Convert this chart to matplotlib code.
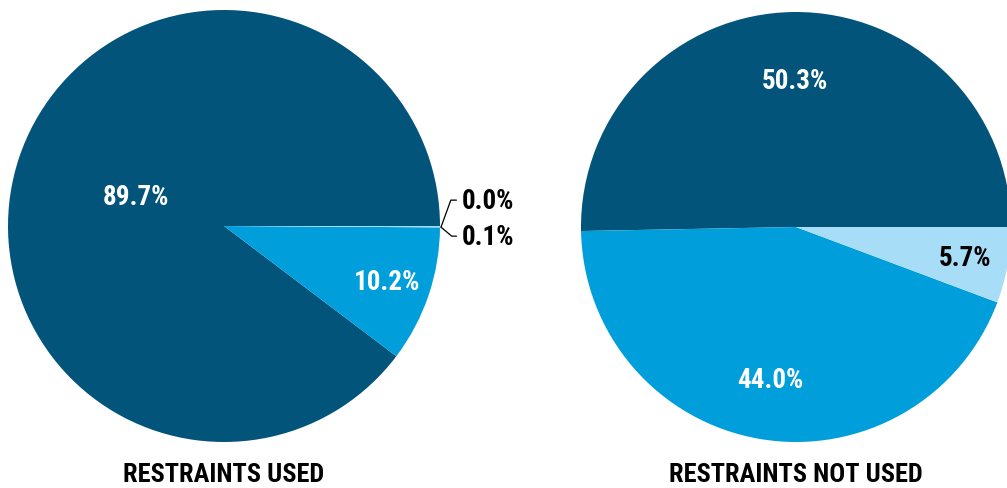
import matplotlib
matplotlib.use("Agg")
import matplotlib.pyplot as plt
import numpy as np
from matplotlib import font_manager

# ---- data ----
used_labels = ["Dark", "Medium", "Light", "Other"]
used_values = [89.7, 10.2, 0.1, 0.0]
notused_labels = ["Dark", "Medium", "Light"]
notused_values = [50.3, 44.0, 5.7]
titles = ["RESTRAINTS USED", "RESTRAINTS NOT USED"]

# ---- style ----
names = {f.name for f in font_manager.fontManager.ttflist}
fam = [n for n in ["Liberation Sans Narrow", "DejaVu Sans Condensed", "Roboto Condensed", "Open Sans Condensed", "DejaVu Sans"] if n in names]
plt.rcParams['font.family'] = fam
DARK, MED, LIGHT = "#03547a", "#009fdb", "#a8ddf7"
W, H = 1007, 489
fig = plt.figure(figsize=(W / 100, H / 100), dpi=100)
ax = fig.add_axes([0, 0, 1, 1])
ax.set_xlim(0, W)
ax.set_ylim(0, H)
ax.set_aspect('equal')
ax.axis('off')

FS = 19.5

def draw(values, center, radius, colors):
    wedges, _ = ax.pie(values, colors=colors, startangle=0, counterclock=True,
                       center=center, radius=radius, normalize=True,
                       wedgeprops=dict(linewidth=0))
    return wedges

# left pie
lc, lr = (224, 262), 216
lw = draw(used_values, lc, lr, [DARK, MED, LIGHT, LIGHT])
left_fracs = [0.43, 0.80]
for w, v, f in zip(lw[:2], used_values[:2], left_fracs):
    ang = np.deg2rad((w.theta1 + w.theta2) / 2)
    ax.text(lc[0] + f * lr * np.cos(ang), lc[1] + f * lr * np.sin(ang), f"{v:.1f}%",
            ha='center', va='center', color='white', fontsize=FS, fontweight='bold')

# outside labels for tiny slices
edge = (lc[0] + lr * np.cos(np.deg2rad(-0.3)) + 1, lc[1] + lr * np.sin(np.deg2rad(-0.3)))
ax.annotate(f"{used_values[3]:.1f}%", xy=edge, xytext=(edge[0] + 21, edge[1] + 27),
            ha='left', va='center', fontsize=FS, fontweight='bold', color='black',
            arrowprops=dict(arrowstyle='-', color='black', lw=0.9, shrinkA=2, shrinkB=0,
                            connectionstyle="angle,angleA=0,angleB=70,rad=0"))
ax.annotate(f"{used_values[2]:.1f}%", xy=edge, xytext=(edge[0] + 21, edge[1] - 9),
            ha='left', va='center', fontsize=FS, fontweight='bold', color='black',
            arrowprops=dict(arrowstyle='-', color='black', lw=0.9, shrinkA=2, shrinkB=0,
                            connectionstyle="angle,angleA=0,angleB=-40,rad=0"))

# right pie
rc, rr = (796, 261), 215
rw = draw(notused_values, rc, rr, [DARK, MED, LIGHT])
right_fracs = [0.68, 0.72, 0.80]
right_tc = ['white', 'white', 'black']
for w, v, f, tc in zip(rw, notused_values, right_fracs, right_tc):
    ang = np.deg2rad((w.theta1 + w.theta2) / 2)
    ax.text(rc[0] + f * rr * np.cos(ang), rc[1] + f * rr * np.sin(ang), f"{v:.1f}%",
            ha='center', va='center', color=tc, fontsize=FS, fontweight='bold')

for c, t in zip([lc, rc], titles):
    ax.text(c[0], 14, t, ha='center', va='center', fontsize=FS - 0.5, fontweight='bold', color='black')

ax.set_xlim(0, W)
ax.set_ylim(0, H)
fig.savefig("out.png", dpi=100)
